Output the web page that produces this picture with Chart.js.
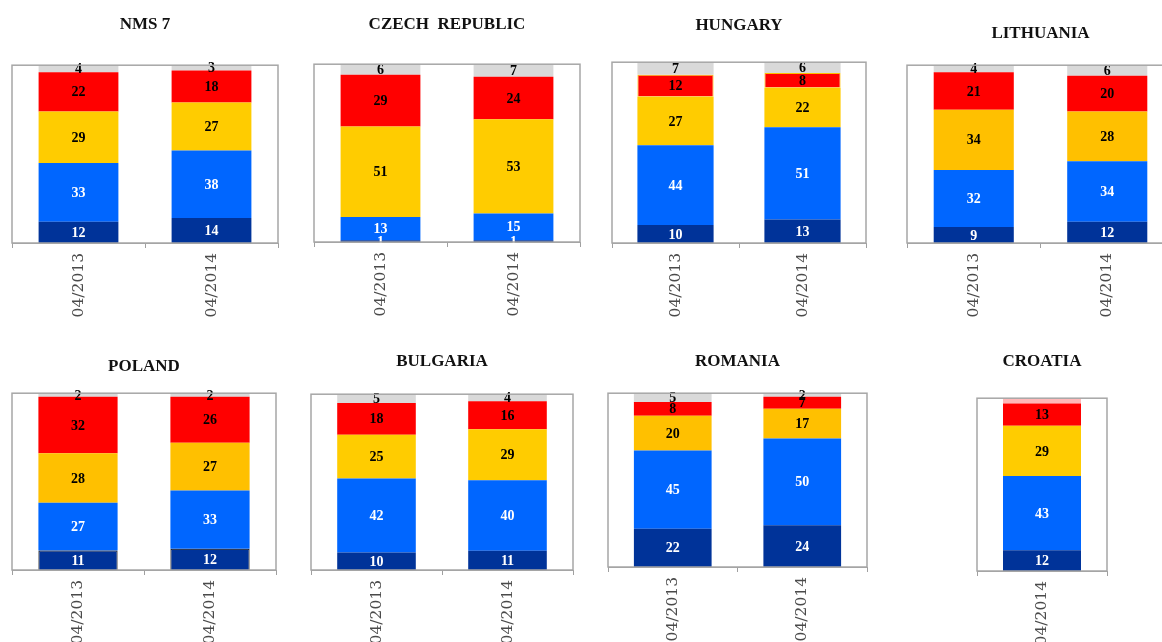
<html>
<head>
  <script src="https://cdn.jsdelivr.net/npm/chart.js@4.4.1/dist/chart.umd.min.js"></script>
  <style>
    body { margin: 0; width: 1162px; height: 642px; overflow: hidden; background: #fff; position: relative; }
    canvas { position: absolute; }
  </style>
</head>
<body>
<script>
  // Panels and survey waves
  const panelNames = ['NMS 7', 'CZECH  REPUBLIC', 'HUNGARY', 'LITHUANIA', 'POLAND', 'BULGARIA', 'ROMANIA', 'CROATIA'];
  const waves = ['04/2013', '04/2014'];

  // Shares per panel and wave (bottom to top of each stack)
  const navyVals   = [[12, 14], [1, 1],   [10, 13], [9, 12],  [11, 12], [10, 11], [22, 24], [12]];
  const blueVals   = [[33, 38], [13, 15], [44, 51], [32, 34], [27, 33], [42, 40], [45, 50], [43]];
  const yellowVals = [[29, 27], [51, 53], [27, 22], [34, 28], [28, 27], [25, 29], [20, 17], [29]];
  const redVals    = [[22, 18], [29, 24], [12, 8],  [21, 20], [32, 26], [18, 16], [8, 7],   [13]];
  const greyVals   = [[4, 3],   [6, 7],   [7, 6],   [4, 6],   [2, 2],   [5, 4],   [5, 2],   [3]];

  // Page geometry of each panel: title centre, plot box edges
  const geom = [
    { tx: 158,  ty: 24,  l: 12,  r: 278,  t: 65,  b: 243 },
    { tx: 437,  ty: 24,  l: 314, r: 580,  t: 64,  b: 242 },
    { tx: 723,  ty: 25,  l: 612, r: 866,  t: 62,  b: 243 },
    { tx: 1042, ty: 33,  l: 907, r: 1174, t: 65,  b: 243 },
    { tx: 145,  ty: 366, l: 12,  r: 276,  t: 393, b: 570 },
    { tx: 434,  ty: 361, l: 311, r: 573,  t: 394, b: 570 },
    { tx: 733,  ty: 361, l: 608, r: 867,  t: 393, b: 567 },
    { tx: 1043, ty: 361, l: 977, r: 1107, t: 398, b: 571 }
  ];

  // A few panels use an orange-ish yellow
  const yellowFor = ['#FFCC00', '#FFCC00', '#FFCC00', '#FFC000', '#FFC000', '#FFCC00', '#FFC000', '#FFCC00'];

  const AXIS_H = 80;
  const TITLE_SIZE = 17;
  const TITLE_LH = TITLE_SIZE * 1.2;

  // box around the plot area
  const frame = {
    id: 'frame',
    afterDraw(chart) {
      const a = chart.chartArea;
      const ctx = chart.ctx;
      ctx.save();
      ctx.strokeStyle = '#A6A6A6';
      ctx.lineWidth = 1.5;
      ctx.strokeRect(a.left, a.top, a.right - a.left, a.bottom - a.top);
      ctx.restore();
    }
  };

  // numbers in the middle of each segment
  const segLabels = {
    id: 'segLabels',
    afterDatasetsDraw(chart) {
      const ctx = chart.ctx;
      ctx.save();
      ctx.font = 'bold 14px "Liberation Serif"';
      ctx.textAlign = 'center';
      ctx.textBaseline = 'middle';
      chart.data.datasets.forEach((ds, i) => {
        if (ds.hideLabels) return;
        chart.getDatasetMeta(i).data.forEach((bar, j) => {
          const p = bar.getProps(['x', 'y', 'base'], true);
          ctx.fillStyle = ds.labelColor;
          ctx.fillText(String(ds.data[j]), p.x, (p.y + p.base) / 2 + 1);
        });
      });
      ctx.restore();
    }
  };

  panelNames.forEach((name, k) => {
    const g = geom[k];
    const half = Math.max(g.tx - g.l, g.r - g.tx) + 14;
    const left = g.tx - half;
    const top = g.ty - TITLE_LH / 2;
    const height = g.b + AXIS_H - top;
    const n = navyVals[k].length;
    const labels = waves.slice(waves.length - n);

    const cv = document.createElement('canvas');
    cv.width = half * 2;
    cv.height = height;
    cv.style.left = left + 'px';
    cv.style.top = top + 'px';
    document.body.appendChild(cv);

    const datasets = [
      { data: navyVals[k], backgroundColor: '#003399', labelColor: '#fff',
        borderColor: k === 4 ? '#000' : '#003399', borderWidth: k === 4 ? 1 : 0 },
      { data: blueVals[k], backgroundColor: '#0066FF', labelColor: '#fff', borderWidth: 0 },
      { data: yellowVals[k], backgroundColor: yellowFor[k], labelColor: '#000', borderWidth: 0 },
      { data: redVals[k], backgroundColor: '#FF0000', labelColor: '#000',
        borderColor: k === 2 ? '#FFC000' : '#FF0000', borderWidth: k === 2 ? 1 : 0 },
      { data: greyVals[k], backgroundColor: k === 7 ? '#FFB8B8' : '#D9D9D9', labelColor: '#000',
        borderWidth: 0, hideLabels: k === 7 }
    ];

    new Chart(cv, {
      type: 'bar',
      data: { labels, datasets },
      options: {
        responsive: false,
        animation: false,
        events: [],
        layout: { padding: { left: g.l - left, right: left + half * 2 - g.r, top: 0, bottom: 0 } },
        datasets: { bar: { barPercentage: 0.6, categoryPercentage: 1 } },
        plugins: {
          legend: { display: false },
          tooltip: { enabled: false },
          title: {
            display: true,
            text: name,
            color: '#111',
            font: { family: 'Liberation Serif', size: TITLE_SIZE, weight: 'bold', lineHeight: 1.2 },
            padding: { top: 0, bottom: g.t - top - TITLE_LH }
          }
        },
        scales: {
          x: {
            stacked: true,
            afterFit: (s) => { s.height = AXIS_H; },
            grid: { display: true, offset: true, drawOnChartArea: false, drawTicks: true, tickLength: 5, color: '#A0A0A0' },
            border: { display: true, color: '#A0A0A0' },
            ticks: {
              minRotation: 90, maxRotation: 90, padding: 5,
              color: '#4a4a4a',
              font: { family: 'DejaVu Serif', size: 15.5 }
            }
          },
          y: { stacked: true, display: false, min: 0, max: 100 }
        }
      },
      plugins: [frame, segLabels]
    });
  });
</script>
</body>
</html>
